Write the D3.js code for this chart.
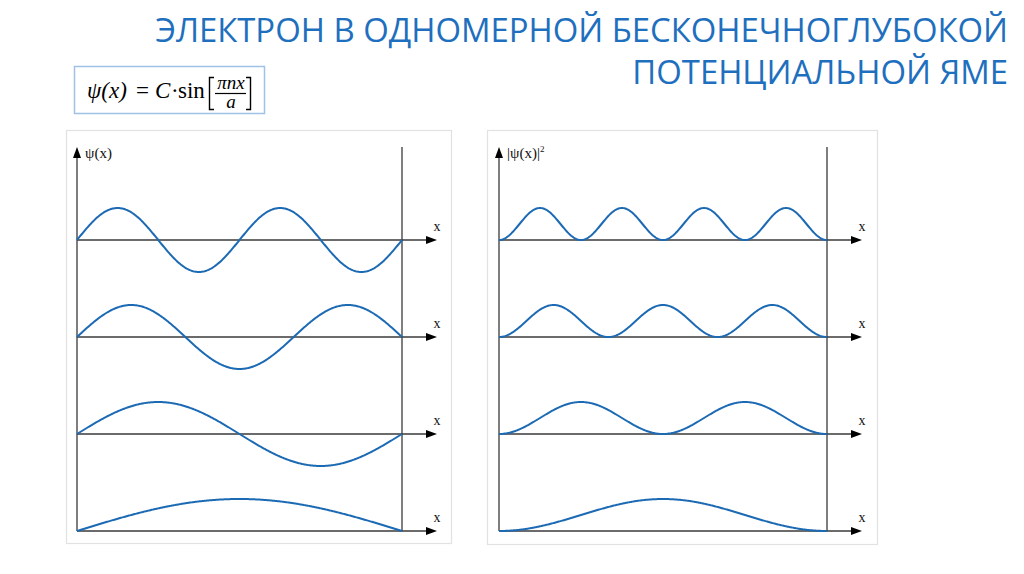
<!DOCTYPE html>
<html><head><meta charset="utf-8">
<script src="https://cdn.jsdelivr.net/npm/d3@7"></script>
<style>html,body{margin:0;padding:0;background:#fff;overflow:hidden}</style>
</head><body>
<svg id="c" width="1024" height="574"></svg>
<script>
// ---- data ----
const titleLines = ["ЭЛЕКТРОН В ОДНОМЕРНОЙ БЕСКОНЕЧНОГЛУБОКОЙ", "ПОТЕНЦИАЛЬНОЙ ЯМЕ"];
const modes = [4, 3, 2, 1];          // quantum number n, top to bottom
const rowIndex = [0, 1, 2, 3];
const leftLabel = "ψ(x)";
const rightLabel = "|ψ(x)|";
const axisLabel = "x";

const svg = d3.select("#c");
const blue = "#1c6ab4";
const axisCol = "#3a3a3a";

// ---- title ----
const tcol = "#1e6fbe";
const t1 = svg.append("text").attr("x", 1008).attr("y", 42).attr("text-anchor", "end")
  .attr("font-family", "Open Sans, sans-serif").attr("font-size", 36).attr("fill", tcol).text(titleLines[0]);
const w1 = t1.node().getComputedTextLength();
const fs = 36 * 853 / w1;
t1.attr("font-size", fs);
svg.append("text").attr("x", 1008).attr("y", 84).attr("text-anchor", "end")
  .attr("font-family", "Open Sans, sans-serif").attr("font-size", fs).attr("fill", tcol).text(titleLines[1]);

// ---- formula box ----
const fb = svg.append("g");
fb.append("rect").attr("x", 74.5).attr("y", 66.5).attr("width", 190).attr("height", 47)
  .attr("fill", "#fff").attr("stroke", "#9fc2e6").attr("stroke-width", 1.5);
const ff = "Liberation Serif, DejaVu Serif, serif";
fb.append("text").attr("x", 87).attr("y", 98).attr("font-family", ff).attr("font-size", 23)
  .attr("font-style", "italic").text("ψ(x)");
fb.append("text").attr("x", 136).attr("y", 98).attr("font-family", ff).attr("font-size", 23).text("=");
fb.append("text").attr("x", 155).attr("y", 98).attr("font-family", ff).attr("font-size", 23)
  .attr("font-style", "italic").text("C");
fb.append("text").attr("x", 171).attr("y", 98).attr("font-family", ff).attr("font-size", 23).text("·");
fb.append("text").attr("x", 178).attr("y", 98).attr("font-family", ff).attr("font-size", 23).text("sin");
fb.append("path").attr("d", "M214,77.5 H209.5 V109.5 H214").attr("fill", "none").attr("stroke", "#000").attr("stroke-width", 1.4);
fb.append("path").attr("d", "M246,77.5 H250.5 V109.5 H246").attr("fill", "none").attr("stroke", "#000").attr("stroke-width", 1.4);
fb.append("text").attr("x", 231).attr("y", 89).attr("text-anchor", "middle").attr("font-family", ff)
  .attr("font-size", 19).attr("font-style", "italic").text("πnx");
fb.append("line").attr("x1", 215).attr("x2", 246).attr("y1", 93.5).attr("y2", 93.5).attr("stroke", "#000").attr("stroke-width", 1.2);
fb.append("text").attr("x", 231).attr("y", 108).attr("text-anchor", "middle").attr("font-family", ff)
  .attr("font-size", 19).attr("font-style", "italic").text("a");

// ---- panels ----
const yRow = d3.scaleLinear().domain([0, 3]).range([240, 531]);
const panels = [
  {box: [66, 130, 385, 413], x0: 77, x1: 402, tip: 437, label: leftLabel, sq: false},
  {box: [487, 130, 390, 414], x0: 499, x1: 827, tip: 862, label: rightLabel, sq: true}
];
const amp = 32;
const samples = d3.range(0, 1.0001, 0.0025);

panels.forEach(p => {
  const g = svg.append("g");
  g.append("rect").attr("x", p.box[0] + 0.5).attr("y", p.box[1] + 0.5).attr("width", p.box[2]).attr("height", p.box[3])
    .attr("fill", "none").attr("stroke", "#e2e2e2").attr("stroke-width", 1.2);
  const x = d3.scaleLinear().domain([0, 1]).range([p.x0, p.x1]);
  const bottom = yRow(3);
  g.append("line").attr("x1", p.x0).attr("x2", p.x0).attr("y1", bottom).attr("y2", 156)
    .attr("stroke", axisCol).attr("stroke-width", 1.3);
  g.append("path").attr("d", `M${p.x0},147 L${p.x0 - 4},158 L${p.x0 + 4},158 Z`).attr("fill", "#000");
  g.append("line").attr("x1", p.x1).attr("x2", p.x1).attr("y1", bottom).attr("y2", 147)
    .attr("stroke", axisCol).attr("stroke-width", 1.3);
  const lab = g.append("text").attr("x", p.x0 + 8).attr("y", 158).attr("font-family", ff).attr("font-size", 15).attr("fill", "#111");
  lab.text(p.label);
  if (p.sq) lab.append("tspan").attr("dy", -6).attr("font-size", 9).text("2");

  rowIndex.forEach((ri, k) => {
    const n = modes[k];
    const base = yRow(ri);
    const y = d3.scaleLinear().domain([-1, 1]).range([base + amp, base - amp]);
    g.append("line").attr("x1", p.x0).attr("x2", p.tip - 9).attr("y1", base).attr("y2", base)
      .attr("stroke", axisCol).attr("stroke-width", 1.3);
    g.append("path").attr("d", `M${p.tip},${base} L${p.tip - 11},${base - 4} L${p.tip - 11},${base + 4} Z`).attr("fill", "#000");
    g.append("text").attr("x", p.tip).attr("y", base - 9).attr("text-anchor", "middle")
      .attr("font-family", ff).attr("font-size", 14).attr("fill", "#111").text(axisLabel);
    const line = d3.line()
      .x(d => x(d))
      .y(d => {
        const s = Math.sin(Math.PI * n * d);
        return p.sq ? y(s * s) : y(s);
      });
    g.append("path").datum(samples).attr("d", line).attr("fill", "none")
      .attr("stroke", blue).attr("stroke-width", 2);
  });
});
</script>
</body></html>
